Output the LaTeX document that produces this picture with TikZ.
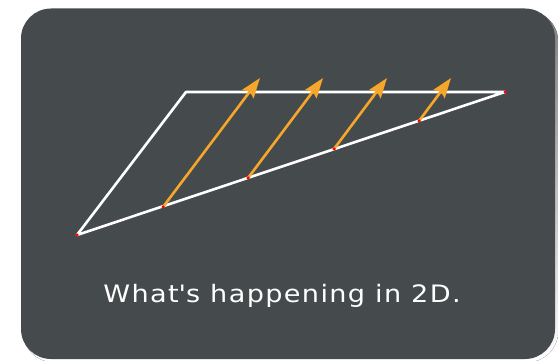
\documentclass[tikz,border=0pt]{standalone}
\usepackage{fontspec}
\newfontfamily\handfont[LetterSpace=5]{DejaVu Sans}
\usetikzlibrary{arrows.meta}
\definecolor{board}{HTML}{454B4D}
\definecolor{amber}{HTML}{F5A62B}
\definecolor{shade}{HTML}{E2E2E2}

\begin{document}
\begin{tikzpicture}[x=1pt, y=-1pt,
    edge/.style={white, line width=2.6pt, line join=round},
    vec/.style={amber, line width=2.6pt, -{Stealth[length=20pt, width=14pt, inset=3pt]}},
    tick/.style={circle, fill=red, inner sep=0pt, minimum size=3.5pt}]
    \useasboundingbox (0,0) rectangle (558,361);
    \fill[shade, rounded corners=30pt] (23,11) rectangle (558,362);
    \fill[board, rounded corners=30pt] (21,8.5) rectangle (555,359);
    % the triangle
    \coordinate (A) at (77,235);
    \coordinate (B) at (186,92);
    \coordinate (C) at (505,92);
        \draw[edge] (A) -- (B) -- (C) -- cycle;
    % the vectors
    \coordinate (p1) at (163,207);
    \coordinate (p2) at (248,178);
    \coordinate (p3) at (334,149);
    \coordinate (p4) at (419,121);
    \coordinate (t1) at (260,78);
    \coordinate (t2) at (323,78);
    \coordinate (t3) at (387,78);
    \coordinate (t4) at (451,78);
        \draw[vec] (p1) -- (t1);
        \draw[vec] (p2) -- (t2);
        \draw[vec] (p3) -- (t3);
        \draw[vec] (p4) -- (t4);
    \node[tick] at (A) {};
    \node[tick] at (C) {};
    \node[tick] at (p1) {};
    \node[tick] at (p2) {};
    \node[tick] at (p3) {};
    \node[tick] at (p4) {};
    \node[white, font=\handfont\fontsize{24}{28}\selectfont] (caption) at (282,296) {\scalebox{1.13}[1]{What\textquotesingle s happening in 2D.}};
\end{tikzpicture}
\end{document}
